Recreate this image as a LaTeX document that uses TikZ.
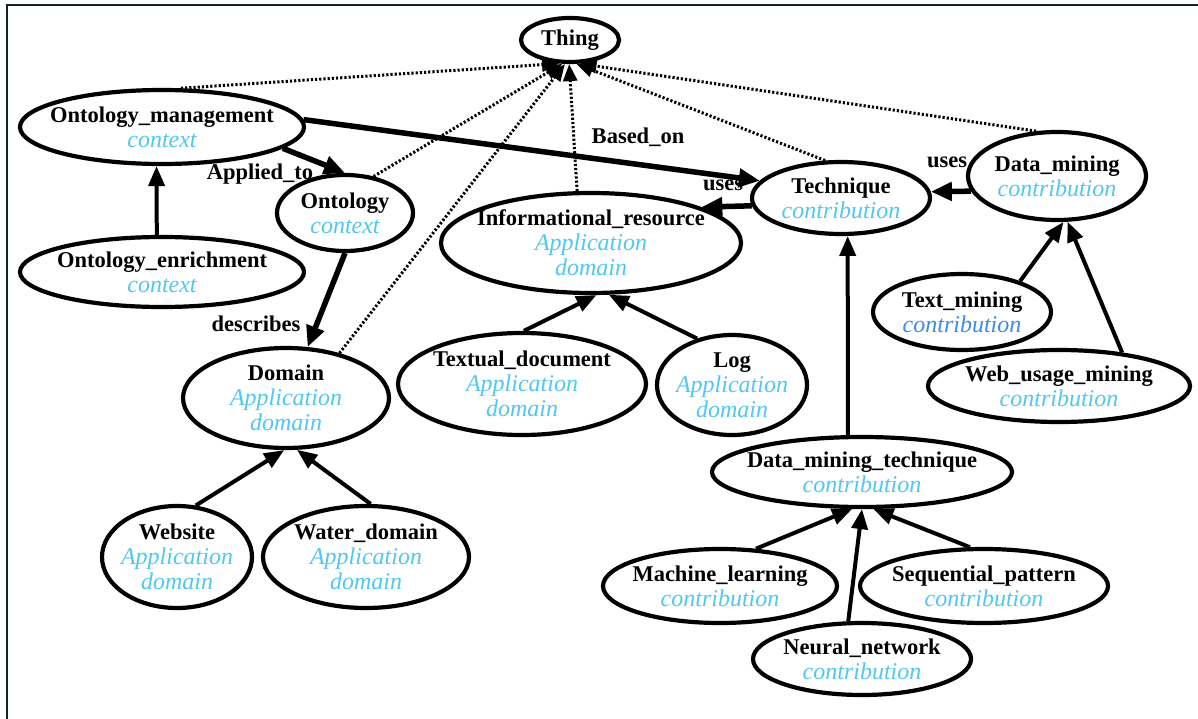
\documentclass[tikz,border=0pt]{standalone}
\usepackage{fontspec}
\setmainfont{Liberation Serif}
\usetikzlibrary{shapes.geometric,arrows.meta}
\definecolor{cb}{RGB}{80,200,240}
\definecolor{cd}{RGB}{60,140,230}
\definecolor{frame}{RGB}{20,35,35}
\newcommand{\nm}[1]{{\bfseries #1}}
\newcommand{\ty}[1]{{\fontsize{24}{25}\selectfont\itshape\color{cb}#1}}
\newcommand{\tyd}[1]{{\fontsize{24}{25}\selectfont\itshape\color{cd}#1}}
\tikzset{
  cls/.style={ellipse, draw, line width=4.2pt, inner xsep=-300pt, inner ysep=-100pt,
    align=center, font=\fontsize{22.5}{25}\selectfont},
  isa/.style={line width=4pt, -{Triangle[length=20pt,width=16pt]}},
  rel/.style={line width=5.5pt, -{Triangle[length=21pt,width=18pt]}},
  sub/.style={line width=3pt, dash pattern=on 2.2pt off 2pt, -{Triangle[length=17pt,width=14pt]}},
  lbl/.style={font=\fontsize{22.5}{25}\selectfont\bfseries, inner sep=0pt},
}
\begin{document}
\begin{tikzpicture}[x=1pt,y=-1pt]
\useasboundingbox (0,0) rectangle (1198,719);
\fill[white] (0,0) rectangle (1198,719);
\draw[frame, line width=2.5pt] (7,719) -- (7,5) -- (1198,5);

\node[cls, minimum width=98, minimum height=44] (thing) at (570,40) {\nm{Thing}};
\node[cls, minimum width=284, minimum height=74] (om) at (162,127) {\nm{Ontology\_management}\\\ty{context}};
\node[cls, minimum width=136, minimum height=76] (ont) at (345,213) {\nm{Ontology}\\\ty{context}};
\node[cls, minimum width=284, minimum height=70] (oe) at (162,272) {\nm{Ontology\_enrichment}\\\ty{context}};
\node[cls, minimum width=178, minimum height=72] (tech) at (841,198) {\nm{Technique}\\\ty{contribution}};
\node[cls, minimum width=178, minimum height=88] (dm) at (1057,176) {\nm{Data\_mining}\\\ty{contribution}};
\node[cls, minimum width=300, minimum height=100] (ir) at (591,243) {\nm{Informational\_resource}\\\ty{Application}\\\ty{domain}};
\node[cls, minimum width=178, minimum height=76] (tm) at (962,312) {\nm{Text\_mining}\\\tyd{contribution}};
\node[cls, minimum width=262, minimum height=72] (wum) at (1059,386) {\nm{Web\_usage\_mining}\\\ty{contribution}};
\node[cls, minimum width=206, minimum height=100] (dom) at (286,398) {\nm{Domain}\\\ty{Application}\\\ty{domain}};
\node[cls, minimum width=248, minimum height=102] (td) at (522,384) {\nm{Textual\_document}\\\ty{Application}\\\ty{domain}};
\node[cls, minimum width=150, minimum height=100] (log) at (732,385) {\nm{Log}\\\ty{Application}\\\ty{domain}};
\node[cls, minimum width=300, minimum height=70] (dmt) at (862,472) {\nm{Data\_mining\_technique}\\\ty{contribution}};
\node[cls, minimum width=234, minimum height=74] (ml) at (720,586) {\nm{Machine\_learning}\\\ty{contribution}};
\node[cls, minimum width=248, minimum height=74] (sp) at (984,586) {\nm{Sequential\_pattern}\\\ty{contribution}};
\node[cls, minimum width=218, minimum height=72] (nn) at (862,659) {\nm{Neural\_network}\\\ty{contribution}};
\node[cls, minimum width=150, minimum height=102] (web) at (177,557) {\nm{Website}\\\ty{Application}\\\ty{domain}};
\node[cls, minimum width=206, minimum height=102] (wat) at (366,557) {\nm{Water\_domain}\\\ty{Application}\\\ty{domain}};

% labels
\node[lbl] (lapp) at (260,174) {Applied\_to};
\node[lbl] (lbas) at (638,137) {Based\_on};
\node[lbl] (lus1) at (723,185) {uses};
\node[lbl] (lus2) at (947,162) {uses};
\node[lbl] (ldes) at (256,324) {describes};

% dotted subclass-of-Thing edges
\draw[sub] (om.64) -- (thing.245);
\draw[sub] (ont.52) -- (thing.252);
\draw[sub] (dom.40) -- (thing.258);
\draw[sub] (ir.105) -- (thing.268);
\draw[sub] (tech.113) -- (thing.285);
\draw[sub] (dm.115) -- (thing.292);

% relations
\draw[rel] (om.350) -- (ont.north);
\draw[rel] (om.3) -- (tech.168);
\draw[rel] (ont.south) -- (dom.67);
\draw[rel] (tech.185) -- (ir.18);
\draw[rel] (dm.190) -- (tech.4);

% subclass edges
\draw[isa] (oe.98) -- (om.262);
\draw[isa] (tm.28) -- (dm.278);
\draw[isa] (wum.28) -- (dm.283);
\draw[isa] (td.88) -- (ir.276);
\draw[isa] (log.127) -- (ir.289);
\draw[isa] (dmt.111) -- (tech.280);
\draw[isa] (ml.46) -- (dmt.255);
\draw[isa] (nn.110) -- (dmt.270);
\draw[isa] (sp.110) -- (dmt.287);
\draw[isa] (web.70) -- (dom.268);
\draw[isa] (wat.85) -- (dom.282);
\end{tikzpicture}
\end{document}
